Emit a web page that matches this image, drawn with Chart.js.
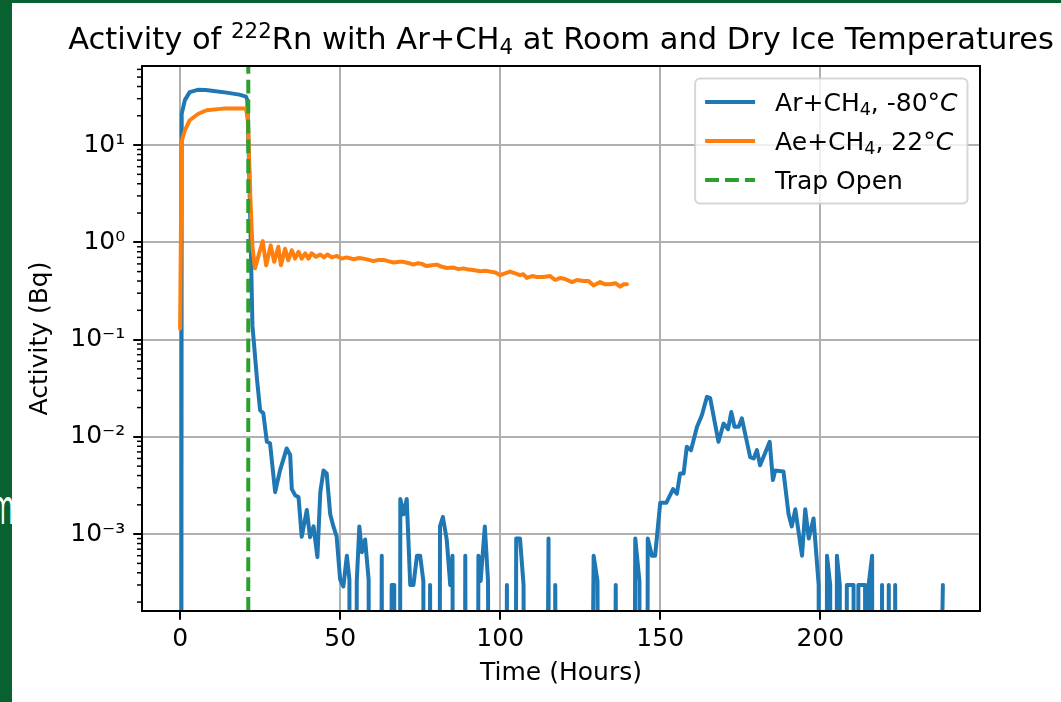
<!DOCTYPE html>
<html>
<head>
<meta charset="utf-8">
<script src="https://cdn.jsdelivr.net/npm/chart.js@4.4.1/dist/chart.umd.min.js"></script>
<style>
  html, body { margin: 0; padding: 0; }
  body { width: 1061px; height: 702px; background: #07622f; position: relative; overflow: hidden; }
  #sheet { position: absolute; left: 12px; top: 3px; right: 0; bottom: 0; background: #fff; }
  #edge { position: absolute; left: 0; top: 470px; width: 12px; height: 70px; overflow: hidden; }
  #edge span { position: absolute; right: -2px; top: 10px; color: #fff; font: 50px/50px "Open Sans"; transform: scaleX(0.5); transform-origin: right center; }
  #chart { position: absolute; left: 0; top: 0; }
</style>
</head>
<body>
<div id="sheet"></div>
<div id="edge"><span>m</span></div>
<canvas id="chart" width="1061" height="702"></canvas>
<script>
// Ar+CH4 at -80 C (hours, Bq). 0 = no counts in that bin
const blueHours = [
  0, 0.5, 1.5, 3, 5.5, 8, 10.5, 14.5, 18.5, 20.6,
  21.0, 21.5, 22.0, 22.6, 24.0, 25.0, 26.0, 27.1, 28.1, 29.7,
  31.2, 33.3, 34.4, 34.9, 36.0, 37.0, 38.0, 39.6, 40.6, 41.7,
  42.9, 43.8, 44.8, 45.8, 46.9, 47.9, 48.9, 50.0, 51.0, 52.1,
  52.9, 53.8, 55.2, 56.0, 56.8, 57.8, 58.9, 60.5, 63.0, 64.5,
  66.1, 66.9, 67.8, 68.8, 69.8, 70.8, 71.9, 72.9, 74.0, 75.0,
  76.0, 77.0, 78.1, 79.7, 81.2, 82.1, 83.3, 84.4, 85.1, 87.0,
  89.1, 91.0, 93.2, 93.9, 95.2, 96.2, 99.0, 102.1, 103.5, 105.0,
  106.2, 107.3, 110.0, 115.1, 116.2, 117.2, 122.0, 129.2, 130.4, 133.0,
  136.1, 139.0, 142.2, 143.5, 144.8, 146.1, 147.4, 148.4, 150.0, 151.9,
  154.0, 155.2, 156.2, 157.3, 158.3, 159.6, 161.5, 163.0, 164.6, 165.6,
  168.2, 169.8, 171.2, 172.2, 173.2, 174.5, 175.5, 178.1, 179.2, 180.2,
  181.2, 184.2, 185.2, 185.9, 188.5, 190.1, 191.1, 192.2, 194.3, 195.3,
  196.4, 197.9, 199.5, 200.8, 202.1, 203.1, 204.2, 205.2, 206.1, 207.2,
  208.3, 209.4, 210.4, 211.1, 211.9, 213.0, 214.0, 214.6, 215.1, 216.2,
  217.0, 219.3, 220.3, 221.4, 222.4, 223.4, 225.0, 238.3
];
const blueBq = [
  0, 21, 29, 35, 37, 36.8, 36, 34.6, 33, 31.5,
  29, 7, 1.3, 0.14, 0.04, 0.0188, 0.0175, 0.0089, 0.0086, 0.0027,
  0.0045, 0.0076, 0.0065, 0.0029, 0.0025, 0.0024, 0.00094, 0.00177, 0.00093, 0.0012,
  0.00058, 0.0027, 0.0045, 0.0042, 0.0016, 0.0012, 0.00095, 0.00034, 0.00029, 0.0006,
  0.00034, 0, 0.00033, 0.0012, 0.00065, 0.00088, 0.00034, 0, 0.0006, 0,
  0.0003, 0.0003, 0, 0.0023, 0.0016, 0.0023, 0.0003, 0.0003, 0.0006, 0.0006,
  0.00033, 0, 0.0003, 0, 0.0012, 0.0015, 0.00088, 0.0003, 0.0006, 0,
  0.0006, 0, 0.0006, 0.00033, 0.0012, 0.00033, 0, 0.0003, 0, 0.0009,
  0.0009, 0.0003, 0, 0.0009, 0, 0.0003, 0, 0.0006, 0.00033, 0,
  0.0003, 0, 0.0009, 0.00033, 0, 0.0009, 0.0006, 0.0006, 0.0021, 0.0021,
  0.0029, 0.0026, 0.0042, 0.0042, 0.0079, 0.0073, 0.0127, 0.0167, 0.0258, 0.025,
  0.0089, 0.0137, 0.012, 0.018, 0.0127, 0.0127, 0.0155, 0.0062, 0.006, 0.0073,
  0.0051, 0.0089, 0.0036, 0.0045, 0.0044, 0.0016, 0.0012, 0.0018, 0.0006, 0.0018,
  0.0009, 0.00145, 0.0003, 0, 0.0006, 0.0003, 0, 0.0006, 0.0003, 0,
  0.0003, 0.0003, 0.0003, 0, 0.0003, 0.0003, 0.0003, 0, 0.0003, 0.0006,
  0, 0.0003, 0, 0.0003, 0, 0.0003, 0, 0.0003
];

// Ar+CH4 at 22 C
const orangeHours = [
  0, 0.5, 1.5, 3, 5.7, 8.3, 13.5, 20.6, 21.2, 21.9,
  22.6, 23.4, 25.8, 26.9, 28.3, 29.4, 30.7, 31.5, 32.8, 33.8,
  34.9, 35.9, 37.0, 38.0, 39.1, 40.1, 41.1, 42.5, 43.8, 45.0,
  46.0, 47.4, 49.0, 50.5, 52.0, 54.2, 56.0, 57.3, 59.0, 60.4,
  62.0, 63.5, 65.0, 66.7, 68.5, 69.8, 71.5, 72.9, 74.3, 75.5,
  77.0, 78.6, 80.2, 81.8, 83.3, 85.4, 87.0, 88.5, 89.6, 91.5,
  93.8, 95.5, 96.9, 98.5, 100.0, 101.5, 103.1, 104.7, 106.2, 107.2,
  108.3, 110.0, 111.5, 113.5, 115.6, 117.2, 118.8, 120.3, 122.4, 124.0,
  126.0, 127.6, 129.2, 131.2, 132.8, 134.4, 136.0, 137.5, 138.5, 139.6
];
const orangeBq = [
  0.13, 11, 14.2, 18, 21, 22.8, 23.7, 23.7, 18, 3.2,
  0.9, 0.54, 1.03, 0.58, 0.93, 0.63, 0.9, 0.58, 0.86, 0.655,
  0.83, 0.68, 0.8, 0.68, 0.77, 0.68, 0.77, 0.71, 0.75, 0.70,
  0.75, 0.70, 0.725, 0.68, 0.70, 0.67, 0.69, 0.68, 0.66, 0.64,
  0.66, 0.66, 0.64, 0.62, 0.63, 0.63, 0.61, 0.59, 0.61, 0.60,
  0.57, 0.58, 0.59, 0.56, 0.545, 0.55, 0.53, 0.54, 0.53, 0.52,
  0.505, 0.51, 0.50, 0.49, 0.46, 0.48, 0.50, 0.48, 0.46, 0.47,
  0.43, 0.45, 0.44, 0.44, 0.45, 0.41, 0.43, 0.42, 0.39, 0.41,
  0.40, 0.40, 0.36, 0.39, 0.37, 0.37, 0.38, 0.35, 0.37, 0.37
];

const trapOpenHours = 21.3;

// labels: ^{..} superscript, _c subscript, *..* italic
const seriesLabels = ['Ar+CH_4, -80°*C*', 'Ae+CH_4, 22°*C*', 'Trap Open'];
const titleText = 'Activity of ^{222}Rn with Ar+CH_4 at Room and Dry Ice Temperatures';
const xTitle = 'Time (Hours)';
const yTitle = 'Activity (Bq)';

const xTickValues = [0, 50, 100, 150, 200];
const yTickValues = [1e-3, 1e-2, 1e-1, 1, 10];
const yTickLabels = ['10⁻³', '10⁻²', '10⁻¹', '10⁰', '10¹'];

const X_MIN = -11.9, X_MAX = 249.9;
const Y_MIN = 1.62e-4, Y_MAX = 65;
const LOG_FLOOR = 1e-30; // empty bins drop off the bottom like matplotlib does

const FONT = '"DejaVu Sans"';
const GRID = '#b0b0b0';
const LINE_W = 4;

function toPoints(hours, values) {
  return hours.map((h, i) => ({ x: h, y: values[i] > 0 ? values[i] : LOG_FLOOR }));
}

function parseRich(text) {
  const segs = [];
  let buf = '', italic = false, i = 0;
  const flush = () => { if (buf) segs.push({ text: buf, mode: 'base', italic }); buf = ''; };
  while (i < text.length) {
    const c = text[i];
    if (c === '^' && text[i + 1] === '{') {
      flush();
      const end = text.indexOf('}', i);
      segs.push({ text: text.slice(i + 2, end), mode: 'sup', italic });
      i = end + 1;
    } else if (c === '_') {
      flush();
      segs.push({ text: text[i + 1], mode: 'sub', italic });
      i += 2;
    } else if (c === '*') {
      flush();
      italic = !italic;
      i++;
    } else {
      buf += c;
      i++;
    }
  }
  flush();
  return segs;
}

function segFont(seg, size) {
  const s = seg.mode === 'base' ? size : size * 0.7;
  return (seg.italic ? 'italic ' : '') + s + 'px ' + FONT;
}

function measureRich(ctx, text, size) {
  return parseRich(text).reduce((w, seg) => {
    ctx.font = segFont(seg, size);
    return w + ctx.measureText(seg.text).width;
  }, 0);
}

function drawRich(ctx, text, x, baseline, size, align) {
  const width = measureRich(ctx, text, size);
  let cx = align === 'center' ? x - width / 2 : x;
  ctx.textAlign = 'left';
  ctx.textBaseline = 'alphabetic';
  ctx.fillStyle = '#000';
  parseRich(text).forEach(seg => {
    ctx.font = segFont(seg, size);
    const dy = seg.mode === 'sup' ? -0.36 * size : seg.mode === 'sub' ? 0.15 * size : 0;
    ctx.fillText(seg.text, cx, baseline + dy);
    cx += ctx.measureText(seg.text).width;
  });
}

const isMajor = (c) => c.tick && c.tick.major;

const mplLook = {
  id: 'mplLook',
  afterDatasetsDraw(chart) {
    const { ctx, chartArea: a, scales } = chart;
    ctx.save();
    ctx.strokeStyle = '#000';
    ctx.lineWidth = 1.5;
    scales.y.ticks.forEach(t => {
      if (t.major) return;
      const py = scales.y.getPixelForValue(t.value);
      ctx.beginPath();
      ctx.moveTo(a.left - 5, py);
      ctx.lineTo(a.left, py);
      ctx.stroke();
    });
    ctx.lineWidth = 2;
    ctx.strokeRect(a.left, a.top, a.right - a.left, a.bottom - a.top);
    ctx.restore();
  },
  afterDraw(chart) {
    const { ctx, chartArea: a } = chart;
    ctx.save();
    drawRich(ctx, titleText, (a.left + a.right) / 2, 49, 30.5, 'center');

    // legend box, upper right inside the axes
    const size = 25, pad = 10, handle = 50, gap = 20, row = 39;
    const sets = chart.data.datasets;
    const textW = Math.max(...sets.map(d => measureRich(ctx, d.label, size)));
    const w = pad * 2 + handle + gap + textW;
    const h = 47 + row * (sets.length - 1);
    const bx = a.right - 12.5 - w, by = a.top + 12.5;
    ctx.beginPath();
    ctx.roundRect(bx, by, w, h, 5);
    ctx.fillStyle = 'rgba(255,255,255,0.8)';
    ctx.fill();
    ctx.lineWidth = 2;
    ctx.strokeStyle = 'rgba(204,204,204,0.8)';
    ctx.stroke();
    sets.forEach((d, i) => {
      const cy = by + 23.5 + i * row;
      ctx.beginPath();
      ctx.setLineDash(d.borderDash || []);
      ctx.lineWidth = d.borderWidth;
      ctx.strokeStyle = d.borderColor;
      ctx.lineCap = 'butt';
      ctx.moveTo(bx + pad, cy);
      ctx.lineTo(bx + pad + handle, cy);
      ctx.stroke();
      ctx.setLineDash([]);
      drawRich(ctx, d.label, bx + pad + handle + gap, cy + 9, size, 'left');
    });
    ctx.restore();
  }
};

new Chart(document.getElementById('chart'), {
  type: 'line',
  data: {
    datasets: [
      { label: seriesLabels[0], data: toPoints(blueHours, blueBq), borderColor: '#1f77b4', borderWidth: LINE_W, order: 3 },
      { label: seriesLabels[1], data: toPoints(orangeHours, orangeBq), borderColor: '#ff7f0e', borderWidth: LINE_W, order: 2 },
      { label: seriesLabels[2], data: [{ x: trapOpenHours, y: Y_MIN }, { x: trapOpenHours, y: Y_MAX }],
        borderColor: '#2ca02c', borderWidth: LINE_W, borderDash: [13.9, 6], borderCapStyle: 'butt', order: 1 }
    ]
  },
  options: {
    responsive: false,
    animation: false,
    devicePixelRatio: 1,
    layout: { padding: { left: 0, top: 66, right: 81, bottom: 0 } },
    elements: {
      point: { radius: 0 },
      line: { tension: 0, fill: false, borderJoinStyle: 'round', borderCapStyle: 'round' }
    },
    datasets: { line: { clip: 0 } },
    plugins: { legend: { display: false }, tooltip: { enabled: false }, title: { display: false } },
    scales: {
      x: {
        type: 'linear',
        min: X_MIN,
        max: X_MAX,
        afterBuildTicks: (s) => { s.ticks = xTickValues.map(v => ({ value: v })); },
        afterFit: (s) => { s.height = 91; },
        border: { display: false },
        grid: { color: GRID, lineWidth: 2, tickLength: 8.75, tickColor: '#000', tickWidth: 2 },
        ticks: { autoSkip: false, maxRotation: 0, padding: 5, color: '#000',
          font: { family: FONT, size: 25 }, callback: (v) => String(v) },
        title: { display: true, text: xTitle, color: '#000', font: { family: FONT, size: 25 },
          padding: { top: 0, bottom: 14 } }
      },
      y: {
        type: 'logarithmic',
        min: Y_MIN,
        max: Y_MAX,
        afterBuildTicks: (s) => {
          const ticks = [];
          for (let e = -4; e <= 1; e++) {
            for (let m = 1; m <= 9; m++) {
              const v = m * Math.pow(10, e);
              const major = m === 1;
              const val = major ? yTickValues.find(t => Math.abs(t - v) < v * 1e-9) || v : v;
              if (val >= s.min && val <= s.max) ticks.push({ value: val, major });
            }
          }
          s.ticks = ticks;
        },
        afterFit: (s) => { s.width = 142; },
        border: { display: false },
        grid: {
          color: (c) => isMajor(c) ? GRID : 'rgba(0,0,0,0)',
          lineWidth: (c) => isMajor(c) ? 2 : 0,
          tickWidth: (c) => isMajor(c) ? 2 : 0,
          tickColor: '#000',
          tickLength: 8.75
        },
        ticks: { autoSkip: false, padding: 8, color: '#000', font: { family: FONT, size: 25 },
          callback: (v) => { const k = yTickValues.indexOf(v); return k >= 0 ? yTickLabels[k] : ''; } },
        title: { display: true, text: yTitle, color: '#000', font: { family: FONT, size: 25 },
          padding: { top: 25, bottom: 0 } }
      }
    }
  },
  plugins: [mplLook]
});
</script>
</body>
</html>
